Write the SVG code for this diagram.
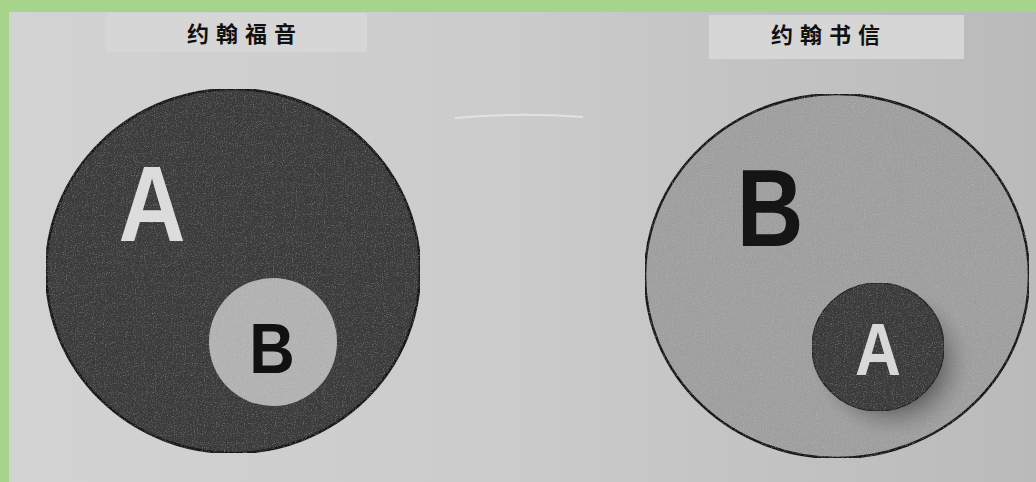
<svg xmlns="http://www.w3.org/2000/svg" width="1036" height="482" viewBox="0 0 1036 482">
<defs>
<linearGradient id="paper" x1="0" y1="0" x2="1" y2="0">
<stop offset="0" stop-color="#d3d3d3"/>
<stop offset="0.5" stop-color="#cbcbcb"/>
<stop offset="1" stop-color="#bababa"/>
</linearGradient>
<radialGradient id="shadow" cx="0.5" cy="0.5" r="0.5">
<stop offset="0.6" stop-color="#555" stop-opacity="0.7"/>
<stop offset="1" stop-color="#888" stop-opacity="0"/>
</radialGradient>
<filter id="grain" x="0" y="0" width="100%" height="100%">
<feTurbulence type="fractalNoise" baseFrequency="0.9" numOctaves="2" seed="3" result="n"/>
<feColorMatrix type="saturate" values="0" in="n" result="g"/>
<feComponentTransfer in="g" result="a">
<feFuncA type="linear" slope="0.35"/>
</feComponentTransfer>
<feComposite in="a" in2="SourceGraphic" operator="in" result="m"/>
<feBlend in="SourceGraphic" in2="m" mode="overlay"/>
</filter>
</defs>
<style>
.title{font-family:"Noto Sans CJK SC","Noto Sans",sans-serif;font-weight:bold;font-size:22px;fill:#111;letter-spacing:7px;text-anchor:middle}
.box{fill:#d6d6d6}
.big{font-family:"Liberation Sans",Arial,sans-serif;font-weight:bold;text-anchor:middle}
.outline{stroke:#151515;stroke-width:2.5}
</style>
<rect width="1036" height="482" fill="url(#paper)"/>
<rect x="0" y="0" width="1036" height="12" fill="#a6d48a"/>
<rect x="0" y="0" width="9" height="482" fill="#a6d48a"/>
<path d="M455 118 Q520 112 583 117" stroke="#e2e2e2" stroke-width="2" fill="none"/>
<g id="title-left">
<rect class="box" x="106" y="13" width="261" height="39"/>
<text class="title" x="245" y="42">约翰福音</text>
</g>
<g id="title-right">
<rect class="box" x="709" y="15" width="255" height="44"/>
<text class="title" x="829" y="43">约翰书信</text>
</g>
<g id="gospel">
<ellipse class="outline" cx="233" cy="271" rx="187" ry="182" fill="#3b3b3b" filter="url(#grain)"/>
<text class="big" x="0" y="241" font-size="108" fill="#dcdcdc" transform="translate(152 0) scale(0.86 1)">A</text>
<g id="gospel-b">
<circle cx="273" cy="342" r="64" fill="#b3b3b3" filter="url(#grain)"/>
<text class="big" x="0" y="373" font-size="70" fill="#111" transform="translate(272 0) scale(0.9 1)">B</text>
</g>
</g>
<g id="epistles">
<ellipse class="outline" cx="837" cy="276" rx="192" ry="182" fill="#a0a0a0" filter="url(#grain)"/>
<ellipse cx="892" cy="362" rx="80" ry="76" fill="url(#shadow)"/>
<text class="big" x="0" y="246" font-size="110" fill="#151515" transform="translate(770 0) scale(0.84 1)">B</text>
<g id="epistles-a">
<ellipse cx="878" cy="347" rx="66" ry="64" fill="#3a3a3a" stroke="#222" stroke-width="1.5" filter="url(#grain)"/>
<text class="big" x="0" y="375" font-size="74" fill="#d8d8d8" transform="translate(878 0) scale(0.86 1)">A</text>
</g>
</g>
</svg>
